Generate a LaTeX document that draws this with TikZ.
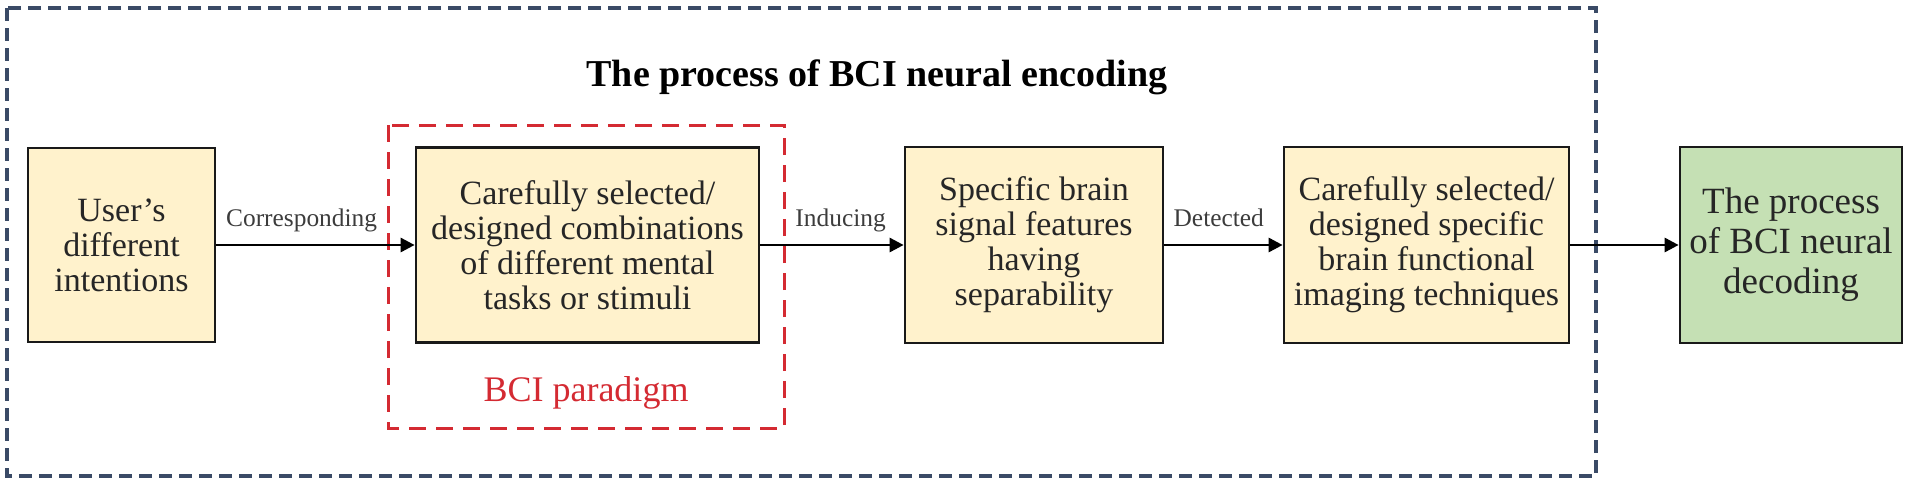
\documentclass[tikz,border=0pt]{standalone}
\usepackage{fontspec}
\setmainfont{Liberation Serif}
\usetikzlibrary{arrows.meta}
\definecolor{boxfill}{HTML}{FFF2CC}
\definecolor{greenfill}{HTML}{C5E0B4}
\definecolor{framenavy}{HTML}{3A4A66}
\definecolor{parared}{HTML}{D42A32}
\definecolor{txt}{HTML}{262626}
\begin{document}
\begin{tikzpicture}[x=0.5pt,y=-0.5pt,
  procbox/.style={draw=black!90, line width=1.35pt, fill=boxfill, align=center,
    font=\fontsize{17}{17.5}\selectfont, text=txt, inner sep=0pt},
  greenbox/.style={procbox, fill=greenfill, font=\fontsize{18.5}{20}\selectfont},
  flow/.style={line width=1.4pt, black, -{Triangle[length=7pt,width=7pt]}},
  lbl/.style={font=\fontsize{12.7}{14}\selectfont, text=txt!90, anchor=base, inner sep=0pt},
  outerframe/.style={draw=framenavy, line width=1.6pt, dash pattern=on 6.3pt off 3.7pt},
  paraframe/.style={draw=parared, line width=1.5pt, dash pattern=on 8.5pt off 5pt},
  titletext/.style={font=\fontsize{19}{22}\selectfont\bfseries, text=black, anchor=base, inner sep=0pt},
  paratext/.style={font=\fontsize{18}{20}\selectfont, text=parared, anchor=base, inner sep=0pt}]
\useasboundingbox (0,0) rectangle (1908,483);
% frames
\draw[outerframe] (7,8) rectangle (1596,476);
\draw[paraframe] (388,125) rectangle (784,428);
% title
\node[titletext] (title) at (877,86) {The process of BCI neural encoding};
% boxes
\node[procbox, minimum width=93.5pt, minimum height=97pt] (user) at (121.5,245)
  {User’s\\different\\intentions};
\node[procbox, minimum width=171.5pt, minimum height=97.5pt] (paradigm) at (587.5,245)
  {Carefully selected/\\designed combinations\\of different mental\\tasks or stimuli};
\node[procbox, minimum width=129pt, minimum height=98pt] (features) at (1034,245)
  {Specific brain\\signal features\\having\\separability};
\node[procbox, minimum width=142.5pt, minimum height=98pt] (imaging) at (1426.5,245)
  {Carefully selected/\\designed specific\\brain functional\\imaging techniques};
\node[greenbox, minimum width=111pt, minimum height=98pt] (decoding) at (1791,245)
  {The process\\of BCI neural\\decoding};
\node[paratext] (paralabel) at (586,401) {BCI paradigm};
% connectors
\draw[flow] (user) -- node[lbl, pos=0.43, yshift=9.5pt] {Corresponding} (paradigm);
\draw[flow] (paradigm) -- node[lbl, pos=0.56, yshift=9.5pt] {Inducing} (features);
\draw[flow] (features) -- node[lbl, pos=0.46, yshift=9.5pt] {Detected} (imaging);
\draw[flow] (imaging) -- (decoding);
\end{tikzpicture}
\end{document}
